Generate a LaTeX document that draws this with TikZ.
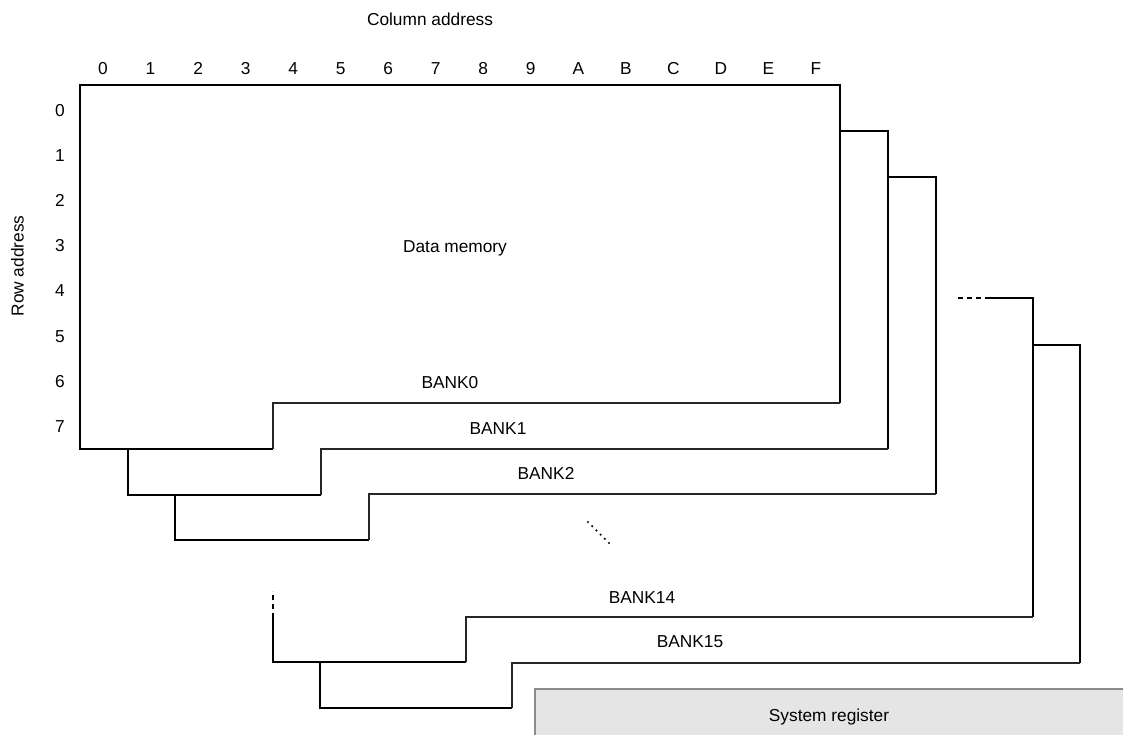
\documentclass[tikz,border=0pt]{standalone}
\usepackage{fontspec}
\setmainfont{Liberation Sans}
\begin{document}
\begin{tikzpicture}[x=1pt,y=-1pt,
  thickln/.style={line width=2.2pt,black},
  thinln/.style={line width=1.2pt,black!85},
  dashln/.style={line width=2.2pt,black,dash pattern=on 5pt off 4pt},
  lbl/.style={font=\fontsize{17.3}{19}\selectfont,inner sep=0pt,text height=0.72em,text depth=0pt,yshift=-2.5pt},
  sysbox/.style={draw=black!45,fill=black!10,line width=1.2pt}]
\useasboundingbox (0,0) rectangle (1123,734);
% system register
\draw[sysbox] (1125,736) -- (535,736) -- (535,689) -- (1125,689);
\node[lbl] (sys) at (829,715) {System register};
% BANK0
\draw[thickln] (273,449) -- (80,449) -- (80,85) -- (840,85) -- (840,403);
\draw[thinln] (840,403) -- (273,403) -- (273,449);
% BANK1
\draw[thickln] (321,495) -- (128,495) -- (128,449);
\draw[thickln] (840,131) -- (888,131) -- (888,449);
\draw[thinln] (888,449) -- (321,449) -- (321,495);
% BANK2
\draw[thickln] (369,540) -- (175,540) -- (175,495);
\draw[thickln] (888,177) -- (936,177) -- (936,494);
\draw[thinln] (936,494) -- (369,494) -- (369,540);
% BANK14
\draw[dashln] (958,298) -- (986,298);
\draw[thickln] (985,298) -- (1033,298) -- (1033,617);
\draw[thinln] (1033,617) -- (466,617) -- (466,662);
\draw[thickln] (466,662) -- (273,662) -- (273,617);
\draw[dashln] (273,618) -- (273,591);
% BANK15
\draw[thickln] (1033,345) -- (1080,345) -- (1080,663);
\draw[thinln] (1080,663) -- (512,663) -- (512,708);
\draw[thickln] (512,708) -- (320,708) -- (320,662);
% dots
\foreach \i in {0,...,5}
  \fill (588+4.2*\i,522+4.2*\i) circle (1.2pt);
% labels
\node[lbl] (coladdr) at (430,19) {Column address};
\node[font=\fontsize{17.3}{19}\selectfont,inner sep=0pt,text height=0.72em,text depth=0pt,rotate=90] (rowaddr) at (20,266) {Row address};
\foreach \c [count=\i from 0] in {0,1,2,3,4,5,6,7,8,9,A,B,C,D,E,F}
  \node[lbl] (col\i) at (103+47.53*\i,68) {\c};
\foreach \r in {0,...,7}
  \node[lbl] (row\r) at (60,110+45.2*\r) {\r};
\node[lbl] (dm) at (455,246) {Data memory};
\node[lbl] (b0) at (450,382) {BANK0};
\node[lbl] (b1) at (498,428) {BANK1};
\node[lbl] (b2) at (546,473) {BANK2};
\node[lbl] (b14) at (642,597) {BANK14};
\node[lbl] (b15) at (690,641) {BANK15};
\end{tikzpicture}
\end{document}
